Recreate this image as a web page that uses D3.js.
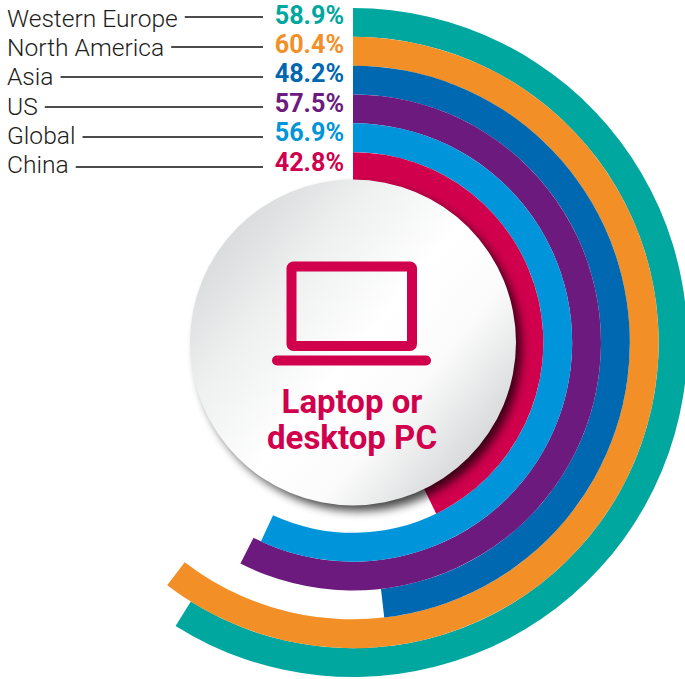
<!DOCTYPE html>
<html>
<head>
<meta charset="utf-8">
<script src="https://cdn.jsdelivr.net/npm/d3@7/dist/d3.min.js"></script>
<style>
html,body{margin:0;padding:0;background:#fff;overflow:hidden}
svg{display:block}
</style>
</head>
<body>
<svg id="c" width="685" height="679"></svg>
<script>
const categories = ["Western Europe","North America","Asia","US","Global","China"];
const values = [58.9,60.4,48.2,57.5,56.9,42.8];
const colors = ["#00a79f","#f28f26","#0067b1","#6d1a7e","#0095da","#d0004d"];
const centerLines = ["Laptop or","desktop PC"];
const accent = "#d0004d";

const W = 685, H = 679, cx = 353, cy = 342.5, rOuter = 334.5, rHub = 162.5;
const svg = d3.select("#c");
const defs = svg.append("defs");

const grad = defs.append("linearGradient").attr("id","hub")
  .attr("x1","8%").attr("y1","15%").attr("x2","92%").attr("y2","85%");
[[0,"#d6d8d9"],[0.25,"#eeefef"],[0.52,"#ffffff"],[0.72,"#fbfbfb"],[1,"#d2d4d5"]]
  .forEach(([o,c])=>grad.append("stop").attr("offset",o).attr("stop-color",c));
const blur = defs.append("filter").attr("id","soft")
  .attr("x","-20%").attr("y","-20%").attr("width","140%").attr("height","140%");
blur.append("feGaussianBlur").attr("stdDeviation",5);

const angle = d3.scaleLinear().domain([0,100]).range([0,2*Math.PI]);
const radial = d3.scaleBand().domain(categories).range([rOuter,rHub-1]).padding(0);
const arc = d3.arc();

const g = svg.append("g").attr("transform",`translate(${cx},${cy})`);
g.selectAll("path.ring").data(categories).join("path")
  .attr("class","ring")
  .attr("fill",(d,i)=>colors[i])
  .attr("d",(d,i)=>arc({
    outerRadius: radial(d)+radial.bandwidth(),
    innerRadius: radial(d),
    startAngle: 0,
    endAngle: angle(values[i])
  }));

g.append("circle").attr("cx",6).attr("cy",6).attr("r",rHub)
  .attr("fill","#000").attr("opacity",0.72).attr("filter","url(#soft)");
g.append("circle").attr("r",rHub+0.5).attr("fill","url(#hub)");

// rows of labels
const labelY = d3.scaleLinear().domain([0,5]).range([27,173]);
const pctY = d3.scaleLinear().domain([0,5]).range([23.5,170.5]);
const lineY = d3.scaleLinear().domain([0,5]).range([17,167]);

const labels = svg.selectAll("text.lab").data(categories).join("text")
  .attr("class","lab").attr("x",7).attr("y",(d,i)=>labelY(i))
  .attr("font-family","Roboto, sans-serif").attr("font-weight",300)
  .attr("font-size",24.6).attr("fill","#1d1d1b").text(d=>d);

labels.each(function(d,i){
  const end = 7 + this.getComputedTextLength();
  svg.append("line").attr("x1",end+7).attr("x2",263)
    .attr("y1",lineY(i)).attr("y2",lineY(i))
    .attr("stroke","#111").attr("stroke-width",1.3);
});

svg.selectAll("text.pct").data(values).join("text")
  .attr("class","pct").attr("x",344).attr("y",(d,i)=>pctY(i))
  .attr("text-anchor","end")
  .attr("font-family","Roboto, sans-serif").attr("font-weight",700)
  .attr("font-size",25.2).attr("fill",(d,i)=>colors[i])
  .text(d=>d.toFixed(1)+"%");

// laptop icon
const icon = svg.append("g").attr("fill","none").attr("stroke",accent);
icon.append("rect").attr("x",291.5).attr("y",266.5).attr("width",120.5).attr("height",79.5)
  .attr("rx",2).attr("stroke-width",10);
icon.append("line").attr("x1",277).attr("x2",426).attr("y1",360.5).attr("y2",360.5)
  .attr("stroke-width",10).attr("stroke-linecap","round");

svg.selectAll("text.hub").data(centerLines).join("text")
  .attr("class","hub").attr("x",352).attr("y",(d,i)=>413+i*36)
  .attr("text-anchor","middle")
  .attr("font-family","Roboto, sans-serif").attr("font-weight",700)
  .attr("font-size",33).attr("fill",accent).text(d=>d);
</script>
</body>
</html>
